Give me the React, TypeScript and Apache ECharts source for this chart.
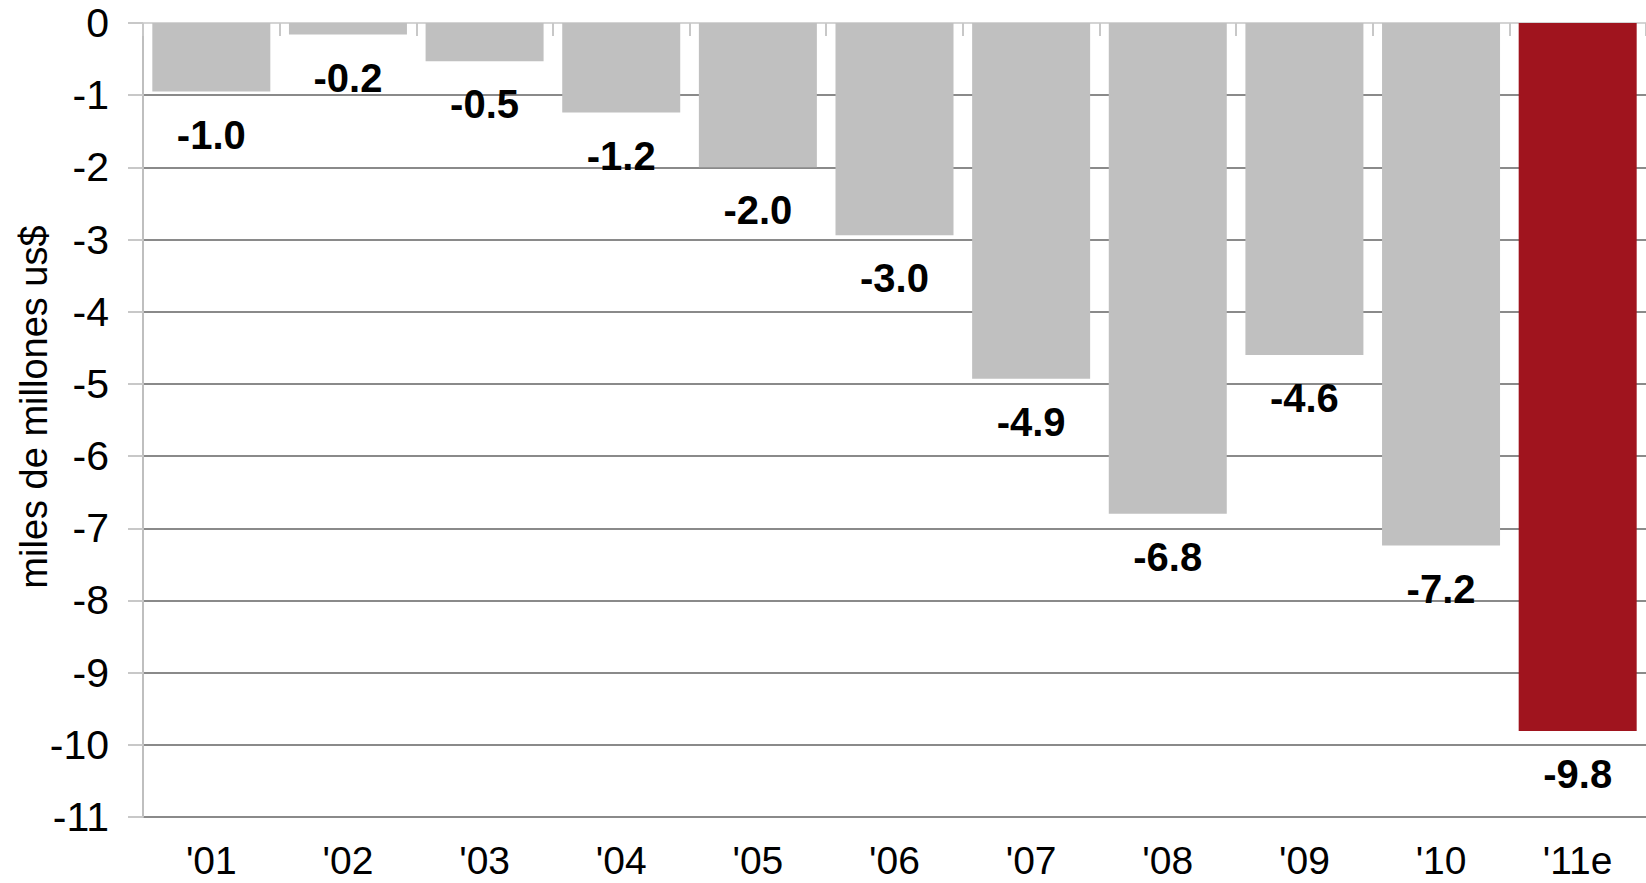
import React, { useEffect, useRef } from "react";
import * as echarts from "echarts";

const categories = ["'01", "'02", "'03", "'04", "'05", "'06", "'07", "'08", "'09", "'10", "'11e"];
const values = [-0.95, -0.16, -0.53, -1.24, -2.0, -2.94, -4.93, -6.8, -4.6, -7.24, -9.81];
const valueLabels = ["-1.0", "-0.2", "-0.5", "-1.2", "-2.0", "-3.0", "-4.9", "-6.8", "-4.6", "-7.2", "-9.8"];
const yTickMin = -11;
const yTickMax = 0;
const yAxisName = "miles de millones us$";

const GRAY = "#c0c0c0";
const RED = "#a0141e";
const FONT = "'Liberation Sans', Arial, sans-serif";

export default function App() {
  const ref = useRef<HTMLDivElement>(null);
  useEffect(() => {
    if (!ref.current) return;
    const chart = echarts.init(ref.current, undefined, { renderer: "svg" });
    chart.setOption({
      animation: false,
      backgroundColor: "#ffffff",
      grid: { left: 143, right: 0, top: 23, bottom: 66, containLabel: false, outerBoundsMode: "none" },
      xAxis: [
        {
          type: "category",
          data: categories,
          position: "bottom",
          axisLine: { show: false },
          axisTick: { show: false },
          axisLabel: { color: "#000", fontSize: 39, lineHeight: 34, fontFamily: FONT, margin: 26 },
        },
        {
          type: "category",
          data: categories,
          position: "top",
          axisLine: { show: true, lineStyle: { color: "#d4d4d4", width: 2 } },
          axisTick: { show: true, inside: true, length: 13, lineStyle: { color: "#c8c8c8", width: 2 } },
          axisLabel: { show: false },
        },
      ],
      yAxis: {
        type: "value",
        min: yTickMin,
        max: yTickMax,
        interval: 1,
        name: yAxisName,
        nameLocation: "middle",
        nameGap: 90,
        nameRotate: 90,
        nameMoveOverlap: false,
        nameTextStyle: { color: "#000", fontSize: 38, fontFamily: FONT, padding: [0, 0, 0, 26] },
        axisLine: { show: true, lineStyle: { color: "#bfbfbf", width: 2 } },
        axisTick: { show: true, inside: false, length: 15, lineStyle: { color: "#c8c8c8", width: 2 } },
        axisLabel: { color: "#000", fontSize: 41, fontFamily: FONT, margin: 34 },
        splitLine: { show: true, lineStyle: { color: "#8a8a8a", width: 2 } },
      },
      series: [
        {
          type: "bar",
          xAxisIndex: 0,
          data: values.map((v, i) => ({
            value: v,
            itemStyle: { color: i === values.length - 1 ? RED : GRAY },
          })),
          barWidth: 118,
          label: {
            show: true,
            position: "bottom",
            distance: 23,
            color: "#000",
            fontSize: 40,
            fontWeight: "bold",
            fontFamily: FONT,
            formatter: (p: any) => valueLabels[p.dataIndex],
          },
        },
      ],
    });
    return () => chart.dispose();
  }, []);
  return (
    <div
      ref={ref}
      style={{ position: "fixed", left: 0, top: 0, width: 1646, height: 883 }}
    />
  );
}
